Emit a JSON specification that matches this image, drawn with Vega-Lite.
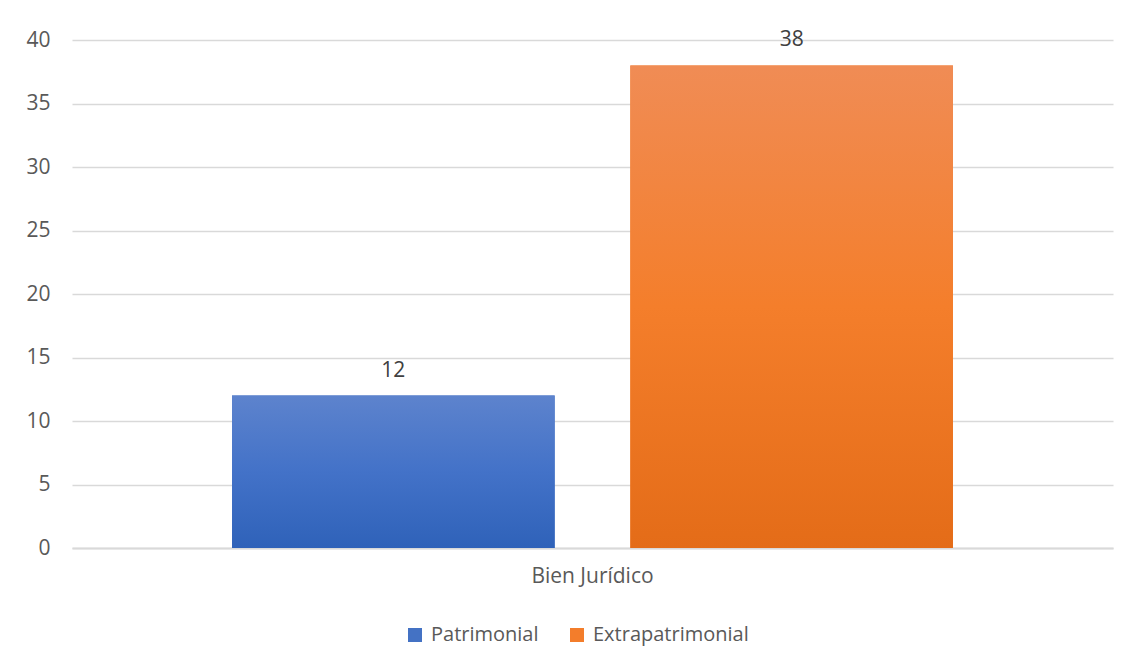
{
  "$schema": "https://vega.github.io/schema/vega-lite/v6.json",
  "width": 1041,
  "height": 508,
  "autosize": {"type": "none"},
  "padding": {"left": 72, "top": 40, "right": 18, "bottom": 117},
  "background": "white",
  "config": {
    "view": {"stroke": null},
    "font": "Open Sans",
    "axis": {"labelFont": "Open Sans", "labelColor": "#595959", "labelFontSize": 21},
    "legend": {"labelFont": "Open Sans", "labelColor": "#595959", "labelFontSize": 20}
  },
  "data": {
    "values": [
      {"categoria": "Bien Jurídico", "serie": "Patrimonial", "valor": 12},
      {"categoria": "Bien Jurídico", "serie": "Extrapatrimonial", "valor": 38}
    ]
  },
  "encoding": {
    "x": {
      "field": "categoria", "type": "nominal",
      "scale": {"paddingOuter": 0.222, "paddingInner": 0},
      "axis": {"title": null, "labelAngle": 0, "domain": true, "domainColor": "#D9D9D9", "domainWidth": 2, "ticks": false, "labelPadding": 17}
    },
    "xOffset": {
      "field": "serie", "type": "nominal",
      "sort": ["Patrimonial", "Extrapatrimonial"],
      "scale": {"domain": ["Patrimonial", "Extrapatrimonial"], "paddingInner": 0.19, "paddingOuter": 0}
    },
    "y": {
      "field": "valor", "type": "quantitative",
      "scale": {"domain": [0, 40], "nice": false},
      "axis": {"title": null, "values": [0, 5, 10, 15, 20, 25, 30, 35, 40], "domain": false, "ticks": false, "labelPadding": 22, "gridColor": "#D9D9D9", "gridWidth": 1.5}
    }
  },
  "layer": [
    {
      "mark": {"type": "bar"},
      "encoding": {
        "color": {
          "field": "serie", "type": "nominal",
          "sort": ["Patrimonial", "Extrapatrimonial"],
          "scale": {"domain": ["Patrimonial", "Extrapatrimonial"], "range": ["#4472C4", "#F37D2B"]},
          "legend": {
            "title": null, "orient": "none", "direction": "horizontal",
            "legendX": 333, "legendY": 585,
            "symbolType": "square", "symbolSize": 196, "symbolStrokeWidth": 0, "symbolOpacity": 1,
            "labelOffset": 6, "columnPadding": 28, "labelLimit": 400
          }
        }
      }
    },
    {
      "transform": [{"filter": "datum.serie === 'Patrimonial'"}],
      "mark": {"type": "bar", "color": {"gradient": "linear", "x1": 0, "y1": 0, "x2": 0, "y2": 1, "stops": [{"offset": 0, "color": "#5D83CD"}, {"offset": 0.5, "color": "#4372C8"}, {"offset": 1, "color": "#2F62B9"}]}},
      "encoding": {}
    },
    {
      "transform": [{"filter": "datum.serie === 'Extrapatrimonial'"}],
      "mark": {"type": "bar", "color": {"gradient": "linear", "x1": 0, "y1": 0, "x2": 0, "y2": 1, "stops": [{"offset": 0, "color": "#F08C55"}, {"offset": 0.5, "color": "#F47E2B"}, {"offset": 1, "color": "#E46C18"}]}},
      "encoding": {}
    },
    {
      "mark": {"type": "text", "baseline": "alphabetic", "dy": -19, "fontSize": 21, "color": "#404040", "font": "Open Sans"},
      "encoding": {"text": {"field": "valor", "type": "quantitative"}}
    }
  ]
}
